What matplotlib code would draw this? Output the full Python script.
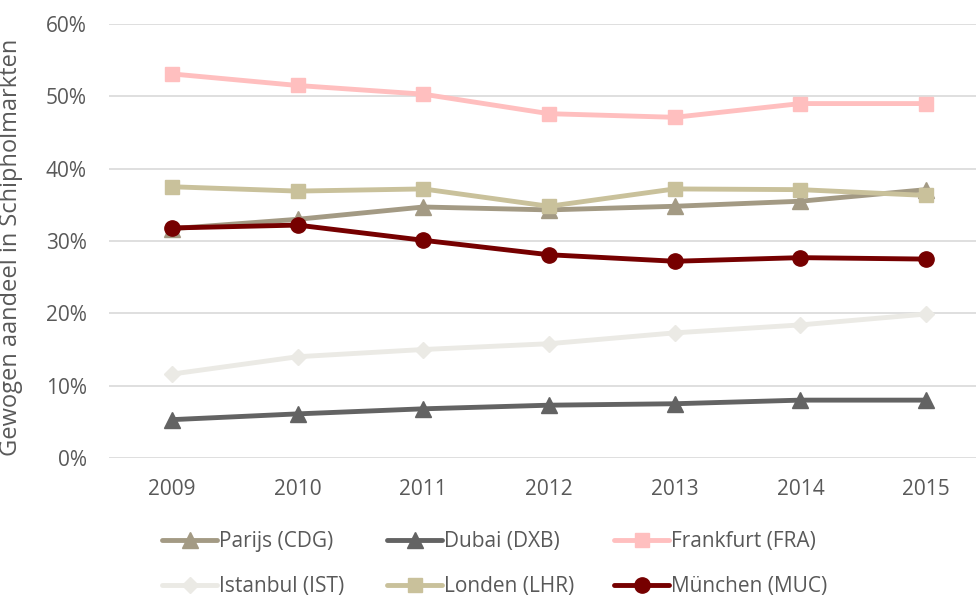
import matplotlib
matplotlib.use("Agg")
import matplotlib.pyplot as plt
from matplotlib.ticker import FuncFormatter

years = ["2009", "2010", "2011", "2012", "2013", "2014", "2015"]
parijs = [31.7, 33.0, 34.7, 34.3, 34.8, 35.5, 37.1]
dubai = [5.3, 6.1, 6.8, 7.3, 7.5, 8.0, 8.0]
frankfurt = [53.1, 51.5, 50.3, 47.6, 47.1, 49.0, 49.0]
istanbul = [11.6, 14.0, 15.0, 15.8, 17.3, 18.4, 19.9]
londen = [37.5, 36.9, 37.2, 34.8, 37.2, 37.1, 36.3]
munchen = [31.8, 32.2, 30.1, 28.1, 27.2, 27.7, 27.5]
yticks = [0, 10, 20, 30, 40, 50, 60]

plt.rcParams['font.family'] = ['Open Sans', 'DejaVu Sans']
fig = plt.figure(figsize=(9.76, 5.99), dpi=100)
ax = fig.add_axes([109/976, 1-458/599, (989-109)/976, (458-24)/599])

x = list(range(len(years)))
series = [
    ("Parijs (CDG)", parijs, "#A39A84", "^", 11),
    ("Dubai (DXB)", dubai, "#636363", "^", 11),
    ("Frankfurt (FRA)", frankfurt, "#FFBFBF", "s", 10),
    ("Istanbul (IST)", istanbul, "#EBEAE5", "D", 8),
    ("Londen (LHR)", londen, "#C9C19B", "s", 10),
    ("München (MUC)", munchen, "#760000", "o", 11),
]
handles = {}
for name, vals, col, mk, ms in series:
    h, = ax.plot(x, vals, color=col, lw=3.5, marker=mk, markersize=ms,
                 markeredgecolor=col, label=name, solid_capstyle='round')
    handles[name] = h

ax.set_xlim(-0.5, 6.5)
ax.set_ylim(0, 60)
ax.set_yticks(yticks)
ax.yaxis.set_major_formatter(FuncFormatter(lambda v, p: f"{v:.0f}%"))
ax.set_xticks(x)
ax.set_xticklabels(years)
ax.grid(axis='y', color='#D9D9D9', lw=1.2)
ax.set_axisbelow(True)
for s in ax.spines.values():
    s.set_visible(False)
ax.tick_params(length=0, labelsize=15, colors='#595959')
ax.tick_params(axis='x', pad=15)
ax.tick_params(axis='y', pad=16)
ax.set_ylabel("Gewogen aandeel in Schipholmarkten", fontsize=17, color='#595959')
ax.yaxis.set_label_coords((23-109)/880, 0.485)

columns = [
    (162, ["Parijs (CDG)", "Istanbul (IST)"]),
    (387, ["Dubai (DXB)", "Londen (LHR)"]),
    (614, ["Frankfurt (FRA)", "München (MUC)"]),
]
for xpos, names in columns:
    fig.legend([handles[n] for n in names], names, loc='upper left',
               bbox_to_anchor=(xpos/976, 1-531/599), frameon=False, fontsize=15,
               handlelength=2.65, handletextpad=0.1, borderpad=0, borderaxespad=0,
               labelspacing=1.15, labelcolor='#595959')
fig.savefig("out.png", dpi=100)
